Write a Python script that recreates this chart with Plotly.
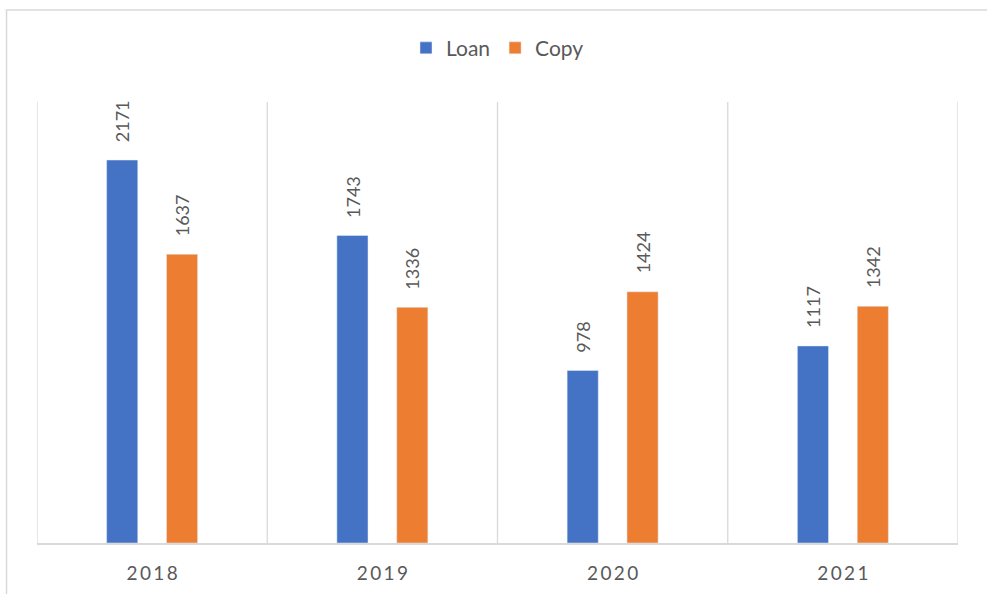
import plotly.graph_objects as go

years = ["2018", "2019", "2020", "2021"]
loan = [2171, 1743, 978, 1117]
copy = [1637, 1336, 1424, 1342]

BLUE = "#4472C4"
ORANGE = "#ED7D31"
GRAY = "#595959"
GRID = "#D9D9D9"
FONT = "Lato, 'Open Sans', sans-serif"

xpos = list(range(len(years)))
tick_text = ["\u2009".join(y) for y in years]

fig = go.Figure()
fig.add_trace(go.Bar(name="Loan", x=xpos, y=loan, marker_color=BLUE))
fig.add_trace(go.Bar(name="Copy", x=xpos, y=copy, marker_color=ORANGE))

annotations = []
for i in xpos:
    for val, off in ((loan[i], -0.13), (copy[i], 0.13)):
        annotations.append(dict(
            x=i + off, y=val, xref="x", yref="y", text=str(val),
            textangle=-90, showarrow=False, yanchor="bottom", xanchor="center",
            yshift=16, font=dict(family=FONT, size=18, color=GRAY),
        ))

shapes = []
for b in [-0.5, 0.5, 1.5, 2.5, 3.5]:
    shapes.append(dict(type="line", xref="x", yref="paper", x0=b, x1=b, y0=0, y1=1,
                       line=dict(color=GRID, width=1.3), layer="below"))
# outer chart border
shapes.append(dict(type="rect", xref="paper", yref="paper",
                   x0=-0.0331, x1=1.2, y0=-0.3, y1=1.2086,
                   line=dict(color=GRID, width=1.5), layer="below"))

fig.update_layout(
    width=987, height=594,
    margin=dict(l=37, r=29, t=102, b=51, autoexpand=False),
    paper_bgcolor="white", plot_bgcolor="white",
    barmode="group", bargap=0.48, bargroupgap=0.48,
    font=dict(family=FONT, color=GRAY),
    legend=dict(orientation="h", x=0.5, xanchor="center", y=1.122, yanchor="middle",
                font=dict(size=21, color=GRAY), itemwidth=30, traceorder="normal"),
    xaxis=dict(range=[-0.5, 3.5], tickvals=xpos, ticktext=tick_text, showgrid=False,
               zeroline=False, showline=True, linecolor=GRID, linewidth=1.5,
               automargin=False,
               ticks="", ticklabelstandoff=12, tickfont=dict(size=19, color=GRAY)),
    yaxis=dict(range=[0, 2500], visible=False, showgrid=False, zeroline=False,
               automargin=False),
    annotations=annotations,
    shapes=shapes,
    showlegend=True,
)

fig.write_html("out.html", config={"displayModeBar": False},
               post_script="document.body.style.margin='0';document.body.style.overflow='hidden';")
